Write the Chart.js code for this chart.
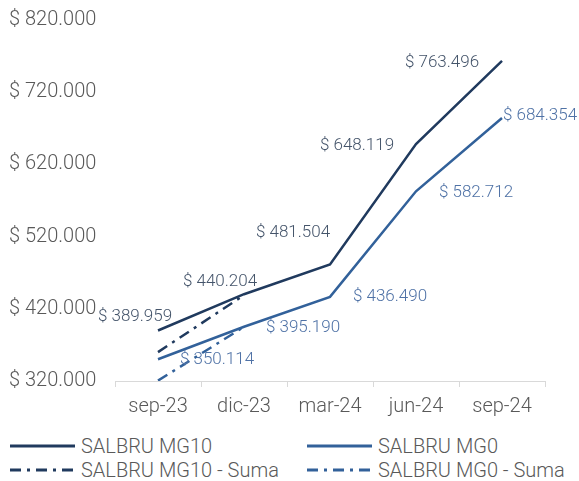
<!DOCTYPE html>
<html>
<head>
<meta charset="utf-8">
<script src="https://cdn.jsdelivr.net/npm/chart.js@4/dist/chart.umd.min.js"></script>
<style>
    html, body { margin: 0; padding: 0; background: #fff; }
    body { width: 579px; height: 481px; overflow: hidden; font-family: Roboto, 'Noto Sans', sans-serif; }
    .chart-box { position: relative; width: 579px; height: 427px; }
    .legend { position: absolute; left: 0; top: 434px; width: 579px; }
    .legend-item { position: absolute; display: flex; align-items: center; color: #595959; font-size: 20px; font-weight: 300; line-height: 24px; white-space: nowrap; }
    .legend-item svg { margin-right: 6px; }
</style>
</head>
<body>
<div class="chart-box"><canvas id="salChart"></canvas></div>
<div class="legend" id="legend"></div>
<script>
const categories = ['sep-23', 'dic-23', 'mar-24', 'jun-24', 'sep-24'];
const mg10 = [389959, 440204, 481504, 648119, 763496];
const mg0 = [350114, 395190, 436490, 582712, 684354];
const mg10Suma = [360000, 439000, null, null, null];
const mg0Suma = [320500, 395000, null, null, null];
const yTicks = [320000, 420000, 520000, 620000, 720000, 820000];

const darkBlue = '#203A5E';
const midBlue = '#32619A';
const dashDot = [11, 6, 3, 6];

function money(v) {
    return '$ ' + Math.round(v).toString().replace(/\B(?=(\d{3})+(?!\d))/g, '.');
}

// data labels next to the points, drawn after the lines
const pointLabels = {
    id: 'pointLabels',
    afterDatasetsDraw(chart, args, opts) {
        const ctx = chart.ctx;
        ctx.save();
        ctx.font = '300 17px Roboto, sans-serif';
        ctx.textAlign = 'center';
        ctx.textBaseline = 'middle';
        (opts.series || []).forEach((s) => {
            const meta = chart.getDatasetMeta(s.index);
            const values = chart.data.datasets[s.index].data;
            ctx.fillStyle = s.color;
            meta.data.forEach((pt, i) => {
                if (values[i] == null) return;
                const off = s.offsets[i] || [0, 0];
                ctx.fillText(money(values[i]), pt.x + off[0], pt.y + off[1]);
            });
        });
        ctx.restore();
    },
};

new Chart(document.getElementById('salChart'), {
    type: 'line',
    data: {
        labels: categories,
        datasets: [
            { label: 'SALBRU MG10', data: mg10, borderColor: darkBlue, borderWidth: 2.5 },
            { label: 'SALBRU MG0', data: mg0, borderColor: midBlue, borderWidth: 2.5 },
            { label: 'SALBRU MG10 - Suma', data: mg10Suma, borderColor: darkBlue, borderWidth: 2.5, borderDash: dashDot },
            { label: 'SALBRU MG0 - Suma', data: mg0Suma, borderColor: midBlue, borderWidth: 2.5, borderDash: dashDot },
        ],
    },
    options: {
        responsive: true,
        maintainAspectRatio: false,
        animation: false,
        elements: {
            point: { radius: 0, hoverRadius: 0 },
            line: { tension: 0, fill: false },
        },
        layout: { padding: { top: 10, right: 34, bottom: 0, left: 9 } },
        plugins: {
            legend: { display: false },
            tooltip: { enabled: false },
            pointLabels: {
                series: [
                    { index: 0, color: '#44546A', offsets: [[-23, -14], [-24, -12], [-37, -32], [-59, 2], [-60, 2]] },
                    { index: 1, color: '#4F72A6', offsets: [[59, 0], [59, 1], [60, 0], [60, 1], [38, -2]] },
                ],
            },
        },
        scales: {
            x: {
                offset: true,
                grid: { offset: true, drawOnChartArea: false, drawTicks: true, tickLength: 6, color: '#D9D9D9' },
                border: { display: true, color: '#D9D9D9', width: 1 },
                ticks: { color: '#595959', font: { family: 'Roboto', size: 20, weight: 300 }, padding: 8, maxRotation: 0 },
            },
            y: {
                min: 320000,
                max: 820000,
                afterBuildTicks: (axis) => { axis.ticks = yTicks.map((v) => ({ value: v })); },
                afterFit: (axis) => { axis.width = 106; },
                grid: { display: false },
                border: { display: false },
                ticks: {
                    color: '#595959',
                    font: { family: 'Roboto', size: 20, weight: 300 },
                    crossAlign: 'far',
                    padding: 8,
                    callback: (v) => money(v),
                },
            },
        },
    },
    plugins: [pointLabels],
});

// legend below the chart, two columns
const legendItems = [
    { text: 'SALBRU MG10', color: darkBlue, dash: null, left: 10, top: 0 },
    { text: 'SALBRU MG0', color: midBlue, dash: null, left: 307, top: 0 },
    { text: 'SALBRU MG10 - Suma', color: darkBlue, dash: dashDot, left: 10, top: 24 },
    { text: 'SALBRU MG0 - Suma', color: midBlue, dash: dashDot, left: 307, top: 24 },
];
const legend = document.getElementById('legend');
legendItems.forEach((item) => {
    const el = document.createElement('div');
    el.className = 'legend-item';
    el.style.left = item.left + 'px';
    el.style.top = item.top + 'px';
    const dash = item.dash ? ` stroke-dasharray="${item.dash.join(' ')}"` : '';
    el.innerHTML = `<svg width="65" height="6"><line x1="0" y1="3" x2="65" y2="3" stroke="${item.color}" stroke-width="3"${dash}/></svg><span></span>`;
    el.querySelector('span').textContent = item.text;
    legend.appendChild(el);
});
</script>
</body>
</html>
